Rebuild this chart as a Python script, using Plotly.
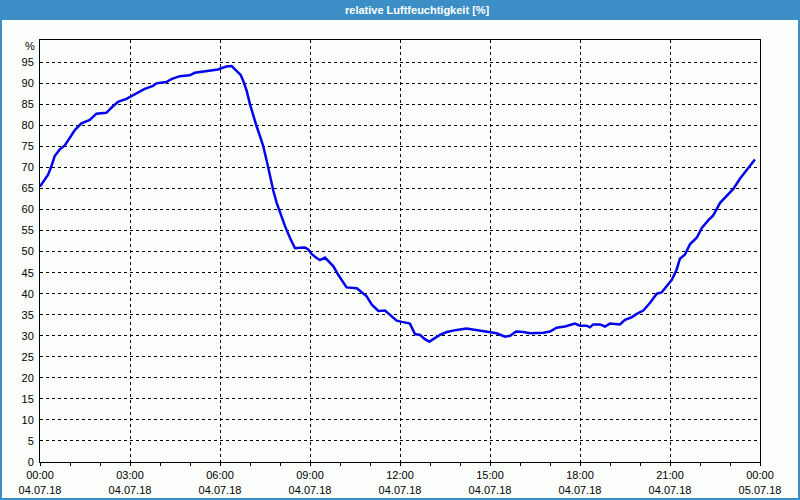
import plotly.graph_objects as go

# hours since 04.07.18 00:00
hours = [0.0, 0.27, 0.38, 0.49, 0.66, 0.82, 0.99, 1.16, 1.38, 1.66, 1.88, 2.21, 2.38, 2.60, 2.88,
         3.16, 3.49, 3.77, 3.88, 4.21, 4.38, 4.66, 4.99, 5.16, 5.49, 5.93, 6.21, 6.39, 6.56, 6.69,
         6.78, 6.89, 7.00, 7.11, 7.22, 7.33, 7.44, 7.56, 7.67, 7.78, 7.89, 8.00, 8.17, 8.33, 8.50,
         8.67, 8.83, 8.94, 9.06, 9.22, 9.33, 9.50, 9.61, 9.78, 9.94, 10.11, 10.22, 10.56, 10.72,
         10.89, 11.06, 11.28, 11.50, 11.67, 11.89, 12.06, 12.33, 12.50, 12.67, 12.83, 12.98, 13.11,
         13.33, 13.56, 13.89, 14.22, 14.56, 14.89, 15.22, 15.50, 15.67, 15.87, 16.11, 16.33, 16.78,
         17.00, 17.22, 17.50, 17.83, 18.00, 18.22, 18.33, 18.44, 18.67, 18.83, 19.00, 19.33, 19.50,
         19.72, 19.89, 20.11, 20.33, 20.56, 20.72, 20.89, 21.06, 21.22, 21.33, 21.50, 21.67, 21.89,
         22.06, 22.28, 22.44, 22.67, 22.89, 23.11, 23.33, 23.56, 23.83]
humidity = [65.5, 68.3, 70.3, 72.7, 74.3, 75.2, 77.0, 78.9, 80.5, 81.3, 82.8, 83.0, 84.2, 85.6, 86.3,
            87.4, 88.7, 89.4, 90.0, 90.3, 91.0, 91.7, 91.9, 92.5, 92.9, 93.3, 94.0, 94.1, 92.9, 92.0,
            90.5, 88.2, 85.0, 82.2, 79.8, 77.5, 75.1, 71.5, 67.5, 64.4, 61.6, 59.2, 56.0, 53.3, 50.8,
            50.9, 51.0, 50.5, 49.4, 48.5, 48.0, 48.6, 47.7, 46.5, 44.5, 42.5, 41.5, 41.3, 40.4,
            39.4, 37.4, 35.9, 36.0, 35.0, 33.6, 33.3, 32.9, 30.4, 30.2, 29.2, 28.6, 29.2,
            30.2, 30.9, 31.4, 31.7, 31.3, 30.9, 30.6, 29.8, 30.0, 31.0, 30.9, 30.6, 30.7,
            31.0, 31.9, 32.2, 32.9, 32.4, 32.4, 32.0, 32.7, 32.7, 32.2, 32.9, 32.7, 33.8,
            34.4, 35.2, 36.0, 37.8, 40.0, 40.3, 41.7, 43.3, 45.7, 48.3, 49.3, 51.8, 53.3,
            55.6, 57.5, 58.6, 61.6, 63.2, 64.9, 67.3, 69.5, 71.9]

x_tickvals = [0, 3, 6, 9, 12, 15, 18, 21, 24]
x_ticktext = ["00:00<br>04.07.18", "03:00<br>04.07.18", "06:00<br>04.07.18", "09:00<br>04.07.18",
              "12:00<br>04.07.18", "15:00<br>04.07.18", "18:00<br>04.07.18", "21:00<br>04.07.18",
              "00:00<br>05.07.18"]
y_tickvals = list(range(0, 100, 5))
title_text = "relative Luftfeuchtigkeit [%]"
unit_text = "%"

W, H = 800, 500
ML, MR, MT, MB = 40, 40, 40, 38
PW, PH = W - ML - MR, H - MT - MB

def px_x(p):
    return (p - ML) / PW

def px_y(p):
    return 1 - (p - MT) / PH

BLUE = "#3c8fc6"
FONT = "Liberation Sans"

fig = go.Figure(go.Scatter(x=hours, y=humidity, mode="lines",
                           line=dict(color="#0505ec", width=2.5), hoverinfo="skip"))

fig.update_layout(
    width=W, height=H,
    margin=dict(l=ML, r=MR, t=MT, b=MB, autoexpand=False),
    paper_bgcolor="#fcfefc", plot_bgcolor="#fcfefc",
    showlegend=False,
    font=dict(family=FONT, size=11, color="#000000"),
    shapes=[
        dict(type="rect", xref="paper", yref="paper", x0=px_x(0), x1=px_x(W), y0=px_y(20), y1=px_y(0),
             fillcolor=BLUE, line=dict(width=0), layer="below"),
        dict(type="rect", xref="paper", yref="paper", x0=px_x(1), x1=px_x(W - 1), y0=px_y(H - 1), y1=px_y(1),
             fillcolor="rgba(0,0,0,0)", line=dict(color=BLUE, width=2)),
    ],
    annotations=[
        dict(text="<b>" + title_text + "</b>", xref="paper", yref="paper", x=px_x(417), y=px_y(10),
             showarrow=False, xanchor="center", yanchor="middle",
             font=dict(family=FONT, size=11, color="#ffffff")),
        dict(text=unit_text, xref="paper", yref="paper", x=px_x(37), y=px_y(46),
             showarrow=False, xanchor="right", yanchor="middle",
             font=dict(family=FONT, size=11, color="#000000")),
    ],
)

fig.update_xaxes(
    range=[0, 24], tickvals=x_tickvals, ticktext=x_ticktext,
    showline=True, linecolor="#000000", linewidth=1, mirror=True,
    showgrid=True, gridcolor="#000000", gridwidth=1, griddash="3px,3px",
    ticks="outside", ticklen=3, tickcolor="#000000",
    minor=dict(dtick=1, ticks="outside", ticklen=3, tickcolor="#000000", showgrid=False),
    zeroline=False, fixedrange=True, automargin=False,
)
fig.update_yaxes(
    range=[0, 100.3], tickvals=y_tickvals,
    showline=True, linecolor="#000000", linewidth=1, mirror=True,
    showgrid=True, gridcolor="#000000", gridwidth=1, griddash="3px,3px",
    ticks="", ticklabelstandoff=3,
    zeroline=False, fixedrange=True, automargin=False,
)

fig.write_html("out.html")
